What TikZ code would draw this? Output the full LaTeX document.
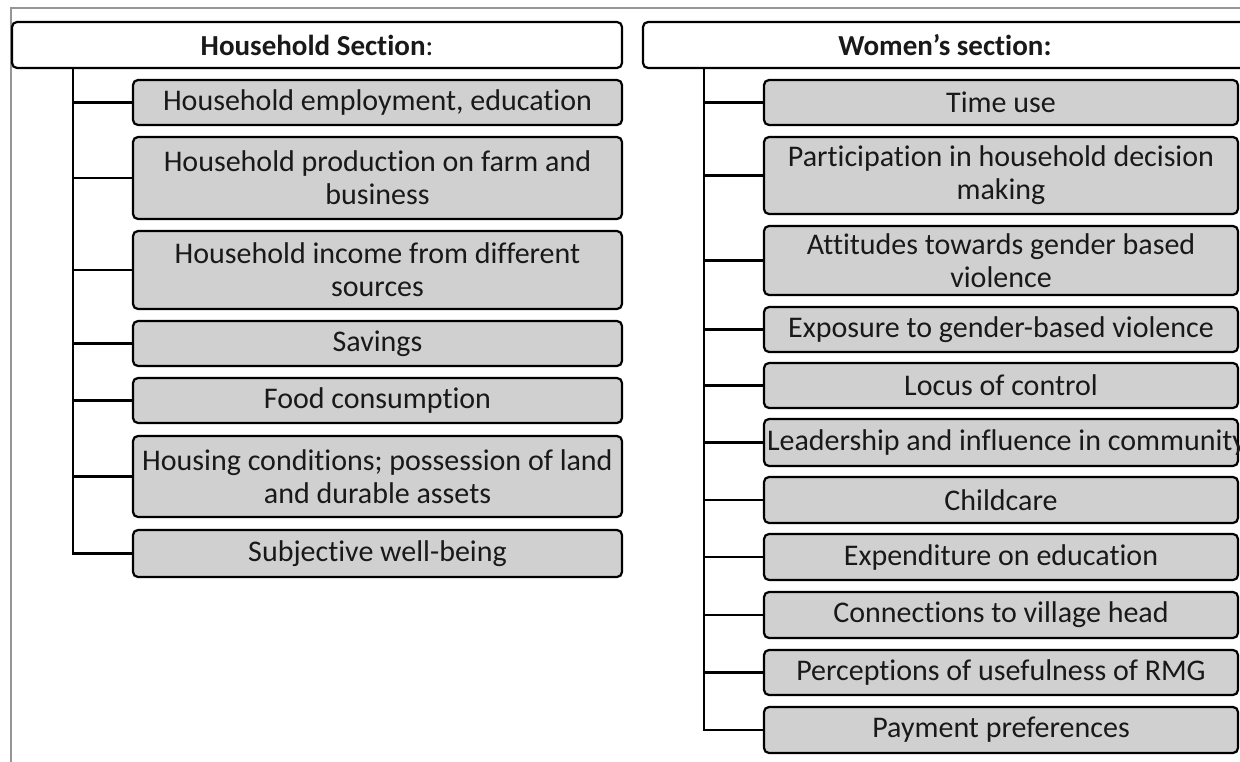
\documentclass[tikz,border=0pt]{standalone}
\usepackage{fontspec}
\setmainfont{Carlito}[Ligatures={NoCommon,NoRequired,NoContextual}]
\definecolor{boxfill}{RGB}{208,208,208}
\definecolor{framegray}{RGB}{150,150,150}
\begin{document}
\begin{tikzpicture}[x=1pt,y=-1pt,
  every node/.style={font=\fontsize{30}{33}\selectfont, text=black!90},
  header/.style={draw, line width=2.2pt, rounded corners=5pt, fill=white,
    minimum height=46pt, inner sep=0pt, anchor=center,
    font=\fontsize{29}{33}\selectfont},
  topic/.style={draw, line width=2.2pt, rounded corners=5pt, fill=boxfill,
    inner sep=0pt, align=center, anchor=center},
  lefttopic/.style={topic, minimum width=489pt},
  righttopic/.style={topic, minimum width=474pt},
  branch/.style={line width=2.2pt}]
\useasboundingbox (0,0) rectangle (1240,762);
\clip (0,0) rectangle (1240,762);

% page frame
\draw[framegray, line width=1.3pt] (11,762) -- (11,8) -- (1240,8);

% section headers
\node[header, minimum width=610pt] (hh) at (317,45) {\textbf{Household Section}:};
\node[header, minimum width=604pt] (ww) at (945,45) {\textbf{Women’s section:}};

% household topics
\node[lefttopic, minimum height=45pt] (h1) at (377.5,102.5) {Household employment, education};
\node[lefttopic, minimum height=82pt] (h2) at (377.5,178) {Household production on farm and\\business};
\node[lefttopic, minimum height=78pt] (h3) at (377.5,270) {Household income from different\\sources};
\node[lefttopic, minimum height=45pt] (h4) at (377.5,343.5) {Savings};
\node[lefttopic, minimum height=45pt] (h5) at (377.5,400.5) {Food consumption};
\node[lefttopic, minimum height=81pt] (h6) at (377.5,476.5) {Housing conditions; possession of land\\and durable assets};
\node[lefttopic, minimum height=47pt] (h7) at (377.5,553.5) {Subjective well-being};

% women's topics
\node[righttopic, minimum height=45pt] (w1) at (1001,102.5) {Time use};
\node[righttopic, minimum height=77pt] (w2) at (1001,175.5) {Participation in household decision\\making};
\node[righttopic, minimum height=69pt] (w3) at (1001,260.5) {Attitudes towards gender based\\violence};
\node[righttopic, minimum height=45pt] (w4) at (1001,329.5) {Exposure to gender-based violence};
\node[righttopic, minimum height=45pt] (w5) at (1001,385.5) {Locus of control};
\node[righttopic, minimum height=47pt] (w6) at (1001,442.5)
  {\hbox to 474pt{\hspace{3pt}Leadership and influence in community\hss}};
\node[righttopic, minimum height=46pt] (w7) at (1001,500) {Childcare};
\node[righttopic, minimum height=46pt] (w8) at (1001,557) {Expenditure on education};
\node[righttopic, minimum height=46pt] (w9) at (1001,615) {Connections to village head};
\node[righttopic, minimum height=45pt] (w10) at (1001,672.5) {Perceptions of usefulness of RMG};
\node[righttopic, minimum height=46pt] (w11) at (1001,730) {Payment preferences};

% trunk roots under each header
\coordinate (hroot) at (73,68);
\coordinate (wroot) at (704,68);

% household tree
\draw[branch] (hroot) |- (h7.west);
\foreach \n in {h1,h2,h3,h4,h5,h6}
  \draw[branch] (\n.west -| hroot) -- (\n.west);

% women's tree
\draw[branch] (wroot) |- (w11.west);
\foreach \n in {w1,w2,w3,w4,w5,w6,w7,w8,w9,w10}
  \draw[branch] (\n.west -| wroot) -- (\n.west);
\end{tikzpicture}
\end{document}
